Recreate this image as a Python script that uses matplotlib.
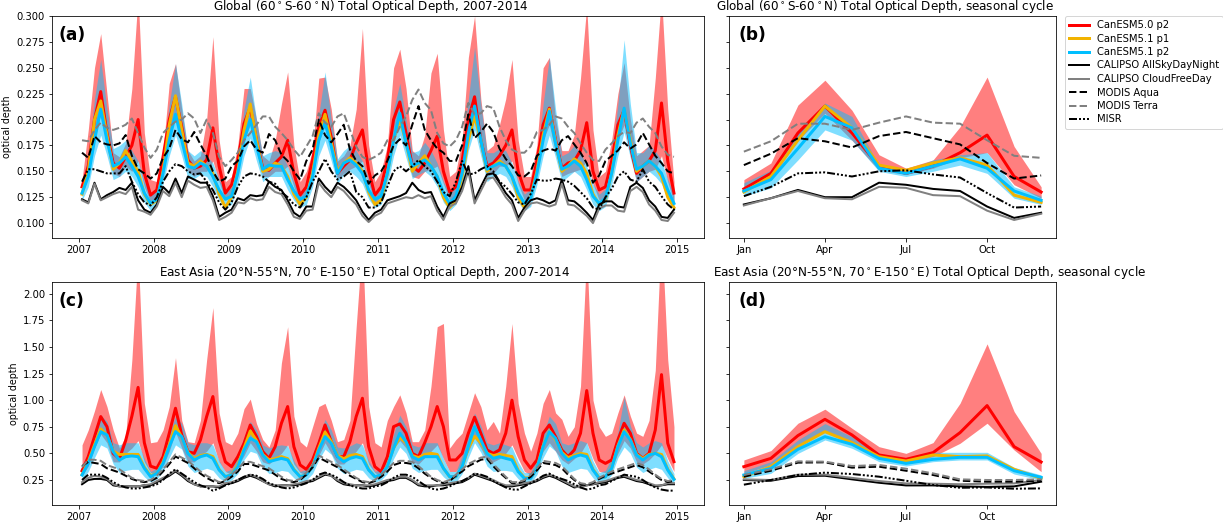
import numpy as np
import matplotlib
matplotlib.use("Agg")
import matplotlib.pyplot as plt
from matplotlib.ticker import MultipleLocator

# ------------------------------------------------------------
# data
# ------------------------------------------------------------
years = list(range(2007, 2015))
month_labels = ["Jan", "Apr", "Jul", "Oct"]

# --- Global 60S-60N, monthly 2007-2014 (one row per year) ---
glb_c50p2 = [
    [0.135, 0.155, 0.200, 0.227, 0.187, 0.158, 0.153, 0.164, 0.175, 0.200, 0.148, 0.127],
    [0.132, 0.164, 0.200, 0.222, 0.193, 0.161, 0.153, 0.155, 0.161, 0.192, 0.155, 0.129],
    [0.137, 0.161, 0.196, 0.212, 0.180, 0.153, 0.151, 0.158, 0.164, 0.180, 0.148, 0.127],
    [0.135, 0.161, 0.193, 0.209, 0.183, 0.148, 0.155, 0.161, 0.177, 0.190, 0.151, 0.127],
    [0.135, 0.161, 0.200, 0.217, 0.187, 0.155, 0.150, 0.158, 0.170, 0.184, 0.150, 0.130],
    [0.135, 0.160, 0.200, 0.222, 0.180, 0.155, 0.158, 0.165, 0.175, 0.190, 0.150, 0.132],
    [0.132, 0.160, 0.195, 0.211, 0.180, 0.153, 0.158, 0.160, 0.170, 0.197, 0.150, 0.132],
    [0.135, 0.160, 0.195, 0.209, 0.175, 0.148, 0.155, 0.160, 0.170, 0.216, 0.160, 0.129],
]
glb_c50p2_hi = [
    [0.142, 0.190, 0.250, 0.283, 0.225, 0.168, 0.164, 0.177, 0.230, 0.320, 0.187, 0.142],
    [0.140, 0.170, 0.235, 0.254, 0.210, 0.170, 0.160, 0.165, 0.200, 0.280, 0.180, 0.140],
    [0.145, 0.175, 0.230, 0.230, 0.200, 0.165, 0.160, 0.180, 0.215, 0.246, 0.175, 0.140],
    [0.150, 0.170, 0.240, 0.241, 0.210, 0.160, 0.165, 0.175, 0.210, 0.288, 0.175, 0.140],
    [0.150, 0.175, 0.250, 0.268, 0.230, 0.170, 0.165, 0.185, 0.245, 0.264, 0.190, 0.145],
    [0.150, 0.180, 0.260, 0.300, 0.220, 0.170, 0.175, 0.195, 0.220, 0.258, 0.180, 0.145],
    [0.145, 0.175, 0.250, 0.260, 0.200, 0.170, 0.170, 0.185, 0.240, 0.310, 0.190, 0.145],
    [0.150, 0.180, 0.225, 0.255, 0.200, 0.165, 0.170, 0.175, 0.240, 0.320, 0.210, 0.140],
]
glb_c50p2_lo = [
    [0.128, 0.145, 0.180, 0.205, 0.175, 0.148, 0.145, 0.155, 0.150, 0.160, 0.135, 0.120],
    [0.125, 0.150, 0.185, 0.205, 0.178, 0.150, 0.145, 0.150, 0.150, 0.160, 0.140, 0.122],
    [0.128, 0.148, 0.180, 0.195, 0.170, 0.145, 0.145, 0.150, 0.150, 0.155, 0.135, 0.120],
    [0.128, 0.148, 0.178, 0.195, 0.170, 0.142, 0.148, 0.152, 0.155, 0.160, 0.138, 0.120],
    [0.125, 0.148, 0.182, 0.200, 0.172, 0.145, 0.143, 0.150, 0.152, 0.155, 0.138, 0.122],
    [0.125, 0.148, 0.182, 0.205, 0.170, 0.145, 0.148, 0.155, 0.155, 0.160, 0.138, 0.122],
    [0.123, 0.148, 0.180, 0.195, 0.168, 0.145, 0.148, 0.150, 0.152, 0.160, 0.138, 0.122],
    [0.125, 0.148, 0.180, 0.195, 0.165, 0.140, 0.145, 0.150, 0.152, 0.165, 0.140, 0.120],
]
glb_c51p1 = [
    [0.128, 0.150, 0.200, 0.218, 0.185, 0.152, 0.158, 0.170, 0.160, 0.150, 0.128, 0.118],
    [0.122, 0.150, 0.195, 0.223, 0.190, 0.158, 0.155, 0.160, 0.155, 0.148, 0.128, 0.115],
    [0.125, 0.150, 0.190, 0.215, 0.180, 0.150, 0.152, 0.158, 0.155, 0.145, 0.128, 0.118],
    [0.125, 0.148, 0.185, 0.205, 0.178, 0.150, 0.158, 0.163, 0.158, 0.150, 0.130, 0.118],
    [0.122, 0.148, 0.180, 0.200, 0.178, 0.150, 0.158, 0.165, 0.155, 0.145, 0.125, 0.115],
    [0.122, 0.145, 0.180, 0.203, 0.180, 0.150, 0.155, 0.160, 0.155, 0.145, 0.125, 0.115],
    [0.125, 0.150, 0.185, 0.210, 0.178, 0.150, 0.155, 0.162, 0.158, 0.148, 0.128, 0.118],
    [0.122, 0.148, 0.185, 0.210, 0.180, 0.150, 0.155, 0.160, 0.155, 0.145, 0.125, 0.115],
]
glb_c51p2 = [
    [0.129, 0.145, 0.180, 0.210, 0.180, 0.155, 0.158, 0.164, 0.155, 0.145, 0.129, 0.119],
    [0.123, 0.148, 0.180, 0.205, 0.180, 0.155, 0.153, 0.158, 0.155, 0.145, 0.132, 0.123],
    [0.126, 0.148, 0.180, 0.200, 0.174, 0.152, 0.156, 0.155, 0.155, 0.142, 0.131, 0.123],
    [0.126, 0.145, 0.180, 0.197, 0.174, 0.148, 0.158, 0.161, 0.156, 0.148, 0.132, 0.123],
    [0.126, 0.148, 0.180, 0.206, 0.177, 0.155, 0.158, 0.161, 0.155, 0.145, 0.129, 0.119],
    [0.126, 0.148, 0.187, 0.213, 0.180, 0.152, 0.155, 0.158, 0.155, 0.145, 0.129, 0.119],
    [0.124, 0.148, 0.180, 0.208, 0.177, 0.152, 0.155, 0.160, 0.155, 0.142, 0.126, 0.119],
    [0.124, 0.148, 0.180, 0.211, 0.177, 0.152, 0.155, 0.160, 0.155, 0.148, 0.132, 0.119],
]
glb_c51p2_hi = [
    [0.138, 0.165, 0.220, 0.258, 0.210, 0.172, 0.175, 0.180, 0.170, 0.160, 0.140, 0.128],
    [0.133, 0.163, 0.215, 0.254, 0.215, 0.170, 0.165, 0.170, 0.165, 0.158, 0.142, 0.130],
    [0.135, 0.162, 0.210, 0.241, 0.200, 0.165, 0.168, 0.170, 0.168, 0.155, 0.140, 0.130],
    [0.135, 0.160, 0.205, 0.246, 0.200, 0.162, 0.170, 0.175, 0.170, 0.160, 0.142, 0.130],
    [0.133, 0.162, 0.210, 0.235, 0.200, 0.168, 0.170, 0.178, 0.170, 0.158, 0.140, 0.128],
    [0.135, 0.163, 0.220, 0.270, 0.215, 0.168, 0.168, 0.172, 0.170, 0.158, 0.140, 0.128],
    [0.133, 0.162, 0.215, 0.260, 0.210, 0.165, 0.168, 0.175, 0.168, 0.155, 0.138, 0.128],
    [0.133, 0.163, 0.215, 0.277, 0.215, 0.168, 0.168, 0.175, 0.170, 0.160, 0.142, 0.128],
]
glb_c51p2_lo = [
    [0.122, 0.135, 0.165, 0.185, 0.165, 0.142, 0.145, 0.150, 0.145, 0.135, 0.120, 0.112],
    [0.117, 0.138, 0.165, 0.185, 0.165, 0.143, 0.143, 0.147, 0.145, 0.135, 0.122, 0.115],
    [0.118, 0.137, 0.165, 0.182, 0.160, 0.140, 0.145, 0.145, 0.145, 0.132, 0.122, 0.115],
    [0.118, 0.135, 0.165, 0.180, 0.160, 0.138, 0.147, 0.150, 0.145, 0.138, 0.123, 0.115],
    [0.118, 0.137, 0.165, 0.185, 0.163, 0.143, 0.147, 0.150, 0.145, 0.135, 0.120, 0.112],
    [0.118, 0.137, 0.170, 0.190, 0.165, 0.140, 0.145, 0.148, 0.145, 0.135, 0.120, 0.112],
    [0.116, 0.137, 0.165, 0.185, 0.163, 0.140, 0.145, 0.150, 0.145, 0.132, 0.118, 0.112],
    [0.116, 0.137, 0.165, 0.188, 0.163, 0.140, 0.145, 0.150, 0.145, 0.138, 0.123, 0.112],
]
glb_cal_all = [
    [0.123, 0.120, 0.139, 0.123, 0.127, 0.130, 0.134, 0.132, 0.139, 0.122, 0.113, 0.110],
    [0.118, 0.135, 0.129, 0.143, 0.129, 0.145, 0.142, 0.139, 0.139, 0.126, 0.106, 0.110],
    [0.113, 0.124, 0.122, 0.127, 0.126, 0.127, 0.140, 0.135, 0.132, 0.122, 0.110, 0.106],
    [0.116, 0.116, 0.143, 0.135, 0.129, 0.139, 0.135, 0.129, 0.122, 0.111, 0.103, 0.110],
    [0.113, 0.122, 0.124, 0.126, 0.129, 0.139, 0.132, 0.129, 0.130, 0.116, 0.106, 0.119],
    [0.122, 0.135, 0.155, 0.122, 0.135, 0.147, 0.148, 0.139, 0.129, 0.122, 0.105, 0.115],
    [0.122, 0.124, 0.122, 0.119, 0.122, 0.142, 0.122, 0.121, 0.116, 0.110, 0.103, 0.118],
    [0.121, 0.121, 0.116, 0.115, 0.135, 0.139, 0.134, 0.122, 0.116, 0.106, 0.105, 0.113],
]
glb_cal_clr = [
    [0.122, 0.119, 0.138, 0.122, 0.125, 0.128, 0.130, 0.128, 0.135, 0.113, 0.111, 0.108],
    [0.116, 0.131, 0.126, 0.139, 0.125, 0.141, 0.137, 0.134, 0.135, 0.122, 0.103, 0.106],
    [0.110, 0.120, 0.119, 0.124, 0.122, 0.123, 0.135, 0.130, 0.128, 0.118, 0.106, 0.104],
    [0.112, 0.113, 0.139, 0.131, 0.125, 0.135, 0.131, 0.124, 0.118, 0.107, 0.101, 0.107],
    [0.110, 0.119, 0.121, 0.123, 0.125, 0.124, 0.127, 0.124, 0.126, 0.112, 0.103, 0.116],
    [0.119, 0.131, 0.150, 0.119, 0.131, 0.143, 0.144, 0.135, 0.125, 0.118, 0.102, 0.112],
    [0.119, 0.120, 0.118, 0.116, 0.118, 0.138, 0.118, 0.117, 0.112, 0.107, 0.100, 0.114],
    [0.117, 0.117, 0.112, 0.111, 0.131, 0.135, 0.130, 0.118, 0.112, 0.103, 0.102, 0.110],
]
glb_aqua = [
    [0.168, 0.163, 0.184, 0.178, 0.176, 0.175, 0.177, 0.185, 0.165, 0.152, 0.148, 0.143],
    [0.148, 0.163, 0.172, 0.190, 0.181, 0.178, 0.188, 0.176, 0.165, 0.150, 0.140, 0.143],
    [0.155, 0.160, 0.174, 0.180, 0.171, 0.168, 0.186, 0.180, 0.166, 0.160, 0.150, 0.142],
    [0.160, 0.171, 0.200, 0.185, 0.178, 0.186, 0.195, 0.171, 0.160, 0.155, 0.138, 0.146],
    [0.150, 0.160, 0.175, 0.181, 0.175, 0.195, 0.213, 0.190, 0.180, 0.172, 0.168, 0.160],
    [0.160, 0.175, 0.205, 0.182, 0.188, 0.196, 0.188, 0.172, 0.162, 0.155, 0.146, 0.145],
    [0.150, 0.165, 0.170, 0.172, 0.170, 0.180, 0.184, 0.176, 0.168, 0.158, 0.139, 0.146],
    [0.160, 0.165, 0.170, 0.178, 0.172, 0.176, 0.187, 0.176, 0.165, 0.158, 0.150, 0.148],
]
glb_terra = [
    [0.180, 0.179, 0.190, 0.197, 0.192, 0.190, 0.192, 0.195, 0.201, 0.187, 0.173, 0.163],
    [0.171, 0.187, 0.193, 0.198, 0.200, 0.206, 0.201, 0.187, 0.200, 0.187, 0.164, 0.155],
    [0.161, 0.168, 0.180, 0.187, 0.195, 0.203, 0.203, 0.193, 0.187, 0.180, 0.171, 0.164],
    [0.174, 0.184, 0.206, 0.197, 0.193, 0.203, 0.206, 0.190, 0.174, 0.164, 0.161, 0.164],
    [0.168, 0.180, 0.180, 0.193, 0.203, 0.219, 0.229, 0.216, 0.209, 0.187, 0.177, 0.174],
    [0.180, 0.193, 0.216, 0.205, 0.206, 0.213, 0.211, 0.193, 0.180, 0.171, 0.168, 0.168],
    [0.174, 0.188, 0.190, 0.195, 0.203, 0.201, 0.193, 0.187, 0.177, 0.168, 0.161, 0.160],
    [0.171, 0.177, 0.184, 0.188, 0.187, 0.197, 0.201, 0.193, 0.187, 0.174, 0.166, 0.164],
]
glb_misr = [
    [0.140, 0.152, 0.152, 0.150, 0.148, 0.148, 0.148, 0.155, 0.140, 0.128, 0.120, 0.117],
    [0.125, 0.140, 0.150, 0.157, 0.155, 0.150, 0.147, 0.148, 0.140, 0.132, 0.120, 0.113],
    [0.120, 0.135, 0.145, 0.148, 0.147, 0.145, 0.140, 0.138, 0.130, 0.125, 0.118, 0.115],
    [0.125, 0.140, 0.150, 0.162, 0.150, 0.142, 0.145, 0.150, 0.130, 0.125, 0.115, 0.115],
    [0.120, 0.135, 0.150, 0.155, 0.150, 0.155, 0.161, 0.155, 0.150, 0.140, 0.130, 0.126],
    [0.140, 0.160, 0.147, 0.148, 0.152, 0.155, 0.150, 0.140, 0.135, 0.128, 0.120, 0.118],
    [0.128, 0.142, 0.141, 0.141, 0.143, 0.142, 0.140, 0.136, 0.130, 0.124, 0.115, 0.113],
    [0.125, 0.133, 0.145, 0.150, 0.142, 0.140, 0.152, 0.140, 0.135, 0.126, 0.118, 0.113],
]

# --- Global, seasonal cycle (Jan..Dec) ---
gsc_c50p2 = [0.133, 0.148, 0.187, 0.213, 0.187, 0.155, 0.148, 0.155, 0.168, 0.185, 0.145, 0.130]
gsc_c50p2_hi = [0.142, 0.158, 0.214, 0.238, 0.209, 0.166, 0.153, 0.161, 0.193, 0.241, 0.174, 0.135]
gsc_c50p2_lo = [0.131, 0.142, 0.180, 0.206, 0.180, 0.151, 0.147, 0.153, 0.163, 0.168, 0.137, 0.124]
gsc_c51p1 = [0.130, 0.145, 0.180, 0.213, 0.192, 0.156, 0.151, 0.158, 0.163, 0.156, 0.127, 0.120]
gsc_c51p2 = [0.131, 0.142, 0.172, 0.203, 0.192, 0.153, 0.148, 0.155, 0.162, 0.153, 0.131, 0.122]
gsc_c51p2_hi = [0.139, 0.151, 0.187, 0.216, 0.203, 0.156, 0.151, 0.161, 0.166, 0.168, 0.135, 0.126]
gsc_c51p2_lo = [0.126, 0.134, 0.161, 0.190, 0.180, 0.150, 0.145, 0.150, 0.156, 0.148, 0.124, 0.118]
gsc_cal_all = [0.118, 0.124, 0.132, 0.125, 0.125, 0.139, 0.137, 0.133, 0.131, 0.116, 0.105, 0.110]
gsc_cal_clr = [0.117, 0.124, 0.131, 0.124, 0.123, 0.135, 0.134, 0.127, 0.126, 0.112, 0.103, 0.109]
gsc_aqua = [0.156, 0.167, 0.182, 0.179, 0.173, 0.184, 0.188, 0.182, 0.176, 0.158, 0.143, 0.146]
gsc_terra = [0.169, 0.179, 0.196, 0.196, 0.190, 0.197, 0.203, 0.197, 0.196, 0.180, 0.165, 0.163]
gsc_misr = [0.126, 0.135, 0.148, 0.149, 0.145, 0.150, 0.151, 0.147, 0.144, 0.129, 0.115, 0.116]

# --- East Asia 20N-55N 70E-150E, monthly 2007-2014 ---
eas_c50p2 = [
    [0.337, 0.469, 0.657, 0.846, 0.751, 0.500, 0.450, 0.620, 0.850, 1.120, 0.600, 0.380],
    [0.360, 0.469, 0.689, 0.924, 0.673, 0.516, 0.500, 0.626, 0.846, 1.034, 0.626, 0.420],
    [0.375, 0.469, 0.595, 0.767, 0.657, 0.516, 0.453, 0.563, 0.783, 0.940, 0.563, 0.391],
    [0.350, 0.438, 0.595, 0.767, 0.610, 0.469, 0.469, 0.610, 0.846, 1.018, 0.563, 0.375],
    [0.328, 0.469, 0.751, 0.777, 0.689, 0.500, 0.469, 0.600, 0.750, 0.940, 0.751, 0.438],
    [0.438, 0.500, 0.689, 0.840, 0.689, 0.532, 0.500, 0.532, 0.689, 1.000, 0.657, 0.438],
    [0.360, 0.438, 0.689, 0.767, 0.657, 0.532, 0.469, 0.532, 0.689, 1.090, 0.689, 0.438],
    [0.406, 0.438, 0.626, 0.783, 0.689, 0.500, 0.453, 0.500, 0.720, 1.240, 0.595, 0.422],
]
eas_c50p2_hi = [
    [0.58, 0.72, 0.90, 1.10, 0.94, 0.72, 0.55, 0.66, 1.38, 2.40, 0.97, 0.60],
    [0.61, 0.72, 0.94, 1.40, 0.81, 0.61, 0.60, 0.81, 1.38, 1.87, 0.88, 0.61],
    [0.58, 0.69, 0.92, 1.01, 0.78, 0.63, 0.56, 0.72, 1.35, 1.69, 0.85, 0.61],
    [0.56, 0.75, 0.94, 0.97, 0.81, 0.61, 0.63, 0.81, 1.69, 2.50, 0.94, 0.60],
    [0.56, 0.81, 0.94, 1.05, 0.88, 0.61, 0.61, 0.72, 1.13, 1.69, 1.72, 0.55],
    [0.63, 0.69, 0.88, 1.07, 0.94, 0.72, 0.80, 0.69, 1.13, 1.72, 0.97, 0.69],
    [0.52, 0.69, 0.97, 1.10, 0.88, 0.82, 0.66, 0.75, 1.13, 2.40, 1.00, 0.75],
    [0.66, 0.69, 0.88, 1.05, 0.85, 0.69, 0.66, 0.81, 1.28, 2.60, 1.38, 0.75],
]
eas_c50p2_lo = [
    [0.30, 0.38, 0.55, 0.68, 0.60, 0.42, 0.42, 0.50, 0.55, 0.62, 0.42, 0.32],
    [0.30, 0.38, 0.52, 0.70, 0.55, 0.42, 0.42, 0.48, 0.52, 0.60, 0.42, 0.33],
    [0.30, 0.38, 0.48, 0.60, 0.52, 0.42, 0.40, 0.45, 0.50, 0.58, 0.40, 0.32],
    [0.30, 0.36, 0.48, 0.60, 0.50, 0.40, 0.40, 0.46, 0.52, 0.60, 0.40, 0.32],
    [0.28, 0.38, 0.55, 0.62, 0.55, 0.42, 0.40, 0.46, 0.52, 0.58, 0.45, 0.33],
    [0.33, 0.40, 0.52, 0.65, 0.55, 0.44, 0.42, 0.45, 0.50, 0.58, 0.45, 0.33],
    [0.30, 0.36, 0.52, 0.60, 0.52, 0.44, 0.40, 0.45, 0.50, 0.60, 0.45, 0.33],
    [0.32, 0.36, 0.50, 0.62, 0.55, 0.42, 0.40, 0.44, 0.50, 0.58, 0.45, 0.33],
]
eas_c51p1 = [
    [0.30, 0.42, 0.58, 0.73, 0.67, 0.52, 0.49, 0.49, 0.49, 0.49, 0.37, 0.29],
    [0.31, 0.42, 0.58, 0.76, 0.65, 0.51, 0.45, 0.48, 0.49, 0.47, 0.35, 0.28],
    [0.30, 0.39, 0.55, 0.71, 0.62, 0.49, 0.44, 0.45, 0.47, 0.45, 0.35, 0.28],
    [0.30, 0.38, 0.55, 0.70, 0.61, 0.48, 0.45, 0.48, 0.49, 0.47, 0.35, 0.28],
    [0.29, 0.38, 0.55, 0.65, 0.60, 0.48, 0.46, 0.49, 0.50, 0.49, 0.36, 0.28],
    [0.28, 0.37, 0.55, 0.66, 0.60, 0.50, 0.48, 0.49, 0.48, 0.47, 0.34, 0.27],
    [0.27, 0.36, 0.57, 0.71, 0.63, 0.51, 0.46, 0.48, 0.50, 0.49, 0.35, 0.27],
    [0.28, 0.36, 0.57, 0.72, 0.63, 0.49, 0.45, 0.49, 0.50, 0.49, 0.35, 0.26],
]
eas_c51p2 = [
    [0.297, 0.406, 0.563, 0.704, 0.673, 0.516, 0.438, 0.469, 0.476, 0.469, 0.360, 0.281],
    [0.312, 0.406, 0.563, 0.704, 0.657, 0.500, 0.438, 0.469, 0.485, 0.453, 0.344, 0.281],
    [0.297, 0.375, 0.532, 0.642, 0.610, 0.485, 0.422, 0.438, 0.453, 0.438, 0.344, 0.281],
    [0.297, 0.375, 0.532, 0.657, 0.595, 0.469, 0.422, 0.453, 0.469, 0.453, 0.344, 0.281],
    [0.297, 0.375, 0.548, 0.689, 0.610, 0.469, 0.438, 0.469, 0.469, 0.469, 0.360, 0.281],
    [0.281, 0.375, 0.563, 0.751, 0.626, 0.500, 0.453, 0.469, 0.453, 0.438, 0.328, 0.265],
    [0.265, 0.359, 0.563, 0.704, 0.642, 0.500, 0.438, 0.469, 0.485, 0.469, 0.344, 0.265],
    [0.281, 0.359, 0.563, 0.704, 0.626, 0.485, 0.438, 0.485, 0.500, 0.469, 0.344, 0.256],
]
eas_c51p2_hi = [
    [0.36, 0.50, 0.68, 0.86, 0.80, 0.60, 0.58, 0.60, 0.60, 0.60, 0.45, 0.33],
    [0.36, 0.50, 0.68, 0.85, 0.78, 0.60, 0.58, 0.60, 0.60, 0.58, 0.43, 0.33],
    [0.35, 0.48, 0.65, 0.80, 0.72, 0.58, 0.55, 0.57, 0.58, 0.57, 0.43, 0.33],
    [0.35, 0.48, 0.65, 0.82, 0.72, 0.56, 0.55, 0.57, 0.60, 0.58, 0.43, 0.33],
    [0.35, 0.48, 0.68, 0.86, 0.75, 0.58, 0.56, 0.60, 0.60, 0.60, 0.45, 0.33],
    [0.33, 0.48, 0.70, 0.88, 0.76, 0.60, 0.58, 0.60, 0.58, 0.56, 0.42, 0.32],
    [0.32, 0.46, 0.68, 0.85, 0.78, 0.60, 0.58, 0.60, 0.62, 0.60, 0.43, 0.32],
    [0.34, 0.46, 0.70, 1.03, 0.76, 0.60, 0.56, 0.60, 0.62, 0.60, 0.43, 0.31],
]
eas_c51p2_lo = [
    [0.25, 0.33, 0.46, 0.58, 0.55, 0.40, 0.32, 0.34, 0.35, 0.35, 0.28, 0.23],
    [0.26, 0.33, 0.46, 0.58, 0.54, 0.38, 0.32, 0.34, 0.36, 0.34, 0.27, 0.23],
    [0.25, 0.31, 0.44, 0.52, 0.50, 0.37, 0.31, 0.32, 0.34, 0.33, 0.27, 0.23],
    [0.25, 0.31, 0.44, 0.54, 0.49, 0.36, 0.31, 0.33, 0.35, 0.34, 0.27, 0.23],
    [0.25, 0.31, 0.45, 0.56, 0.50, 0.36, 0.32, 0.34, 0.35, 0.35, 0.28, 0.23],
    [0.23, 0.31, 0.46, 0.60, 0.51, 0.38, 0.33, 0.34, 0.34, 0.33, 0.26, 0.22],
    [0.22, 0.30, 0.46, 0.57, 0.52, 0.38, 0.32, 0.34, 0.36, 0.35, 0.27, 0.22],
    [0.23, 0.30, 0.46, 0.56, 0.50, 0.37, 0.32, 0.35, 0.37, 0.35, 0.27, 0.21],
]
eas_cal_all = [
    [0.21, 0.25, 0.26, 0.26, 0.25, 0.20, 0.19, 0.19, 0.19, 0.19, 0.20, 0.20],
    [0.23, 0.26, 0.29, 0.33, 0.29, 0.24, 0.21, 0.19, 0.19, 0.19, 0.18, 0.21],
    [0.22, 0.24, 0.27, 0.29, 0.27, 0.24, 0.21, 0.19, 0.20, 0.20, 0.20, 0.21],
    [0.23, 0.24, 0.27, 0.30, 0.29, 0.24, 0.21, 0.20, 0.20, 0.20, 0.19, 0.20],
    [0.22, 0.24, 0.25, 0.27, 0.27, 0.24, 0.20, 0.19, 0.19, 0.20, 0.20, 0.21],
    [0.22, 0.23, 0.26, 0.30, 0.28, 0.26, 0.24, 0.21, 0.19, 0.19, 0.20, 0.21],
    [0.22, 0.24, 0.27, 0.29, 0.27, 0.24, 0.21, 0.18, 0.19, 0.20, 0.21, 0.22],
    [0.23, 0.25, 0.27, 0.28, 0.26, 0.24, 0.23, 0.21, 0.19, 0.20, 0.21, 0.21],
]
eas_cal_clr = [
    [0.23, 0.27, 0.29, 0.28, 0.26, 0.21, 0.19, 0.19, 0.19, 0.19, 0.20, 0.21],
    [0.24, 0.27, 0.30, 0.34, 0.30, 0.25, 0.21, 0.19, 0.19, 0.19, 0.19, 0.22],
    [0.23, 0.25, 0.28, 0.30, 0.28, 0.24, 0.21, 0.20, 0.20, 0.20, 0.21, 0.22],
    [0.24, 0.25, 0.28, 0.31, 0.29, 0.25, 0.22, 0.21, 0.20, 0.20, 0.20, 0.21],
    [0.23, 0.25, 0.26, 0.28, 0.28, 0.25, 0.21, 0.20, 0.20, 0.20, 0.21, 0.22],
    [0.23, 0.24, 0.27, 0.31, 0.29, 0.27, 0.25, 0.22, 0.20, 0.20, 0.21, 0.22],
    [0.23, 0.25, 0.28, 0.30, 0.28, 0.25, 0.22, 0.19, 0.18, 0.20, 0.21, 0.23],
    [0.24, 0.26, 0.28, 0.29, 0.27, 0.25, 0.24, 0.22, 0.20, 0.20, 0.22, 0.22],
]
eas_aqua = [
    [0.38, 0.42, 0.41, 0.40, 0.36, 0.34, 0.32, 0.29, 0.26, 0.24, 0.23, 0.24],
    [0.27, 0.33, 0.40, 0.47, 0.44, 0.41, 0.36, 0.31, 0.27, 0.24, 0.22, 0.24],
    [0.28, 0.33, 0.40, 0.40, 0.38, 0.36, 0.34, 0.30, 0.26, 0.24, 0.23, 0.25],
    [0.30, 0.37, 0.46, 0.43, 0.40, 0.37, 0.33, 0.29, 0.26, 0.23, 0.22, 0.24],
    [0.28, 0.33, 0.39, 0.41, 0.41, 0.40, 0.36, 0.31, 0.27, 0.24, 0.22, 0.24],
    [0.29, 0.33, 0.38, 0.41, 0.44, 0.45, 0.38, 0.32, 0.27, 0.22, 0.22, 0.24],
    [0.28, 0.34, 0.41, 0.40, 0.39, 0.36, 0.30, 0.25, 0.21, 0.20, 0.22, 0.26],
    [0.29, 0.31, 0.33, 0.35, 0.37, 0.39, 0.37, 0.33, 0.29, 0.25, 0.23, 0.24],
]
eas_terra = [
    [0.37, 0.44, 0.44, 0.43, 0.39, 0.37, 0.35, 0.31, 0.27, 0.25, 0.24, 0.25],
    [0.29, 0.35, 0.42, 0.49, 0.46, 0.43, 0.38, 0.33, 0.29, 0.26, 0.23, 0.25],
    [0.30, 0.35, 0.42, 0.42, 0.40, 0.38, 0.36, 0.32, 0.28, 0.25, 0.24, 0.26],
    [0.32, 0.39, 0.48, 0.45, 0.42, 0.39, 0.35, 0.31, 0.27, 0.24, 0.23, 0.25],
    [0.30, 0.35, 0.41, 0.43, 0.43, 0.42, 0.38, 0.33, 0.28, 0.25, 0.23, 0.25],
    [0.30, 0.35, 0.40, 0.43, 0.46, 0.47, 0.40, 0.34, 0.28, 0.23, 0.23, 0.25],
    [0.30, 0.36, 0.43, 0.42, 0.41, 0.38, 0.32, 0.26, 0.22, 0.21, 0.23, 0.27],
    [0.30, 0.33, 0.35, 0.37, 0.39, 0.41, 0.39, 0.35, 0.30, 0.26, 0.24, 0.25],
]
eas_misr = [
    [0.25, 0.30, 0.30, 0.30, 0.27, 0.23, 0.20, 0.18, 0.17, 0.17, 0.18, 0.19],
    [0.21, 0.25, 0.31, 0.35, 0.31, 0.27, 0.23, 0.20, 0.18, 0.15, 0.17, 0.20],
    [0.22, 0.25, 0.28, 0.30, 0.29, 0.26, 0.22, 0.20, 0.18, 0.17, 0.18, 0.20],
    [0.22, 0.25, 0.30, 0.32, 0.30, 0.27, 0.23, 0.20, 0.18, 0.17, 0.17, 0.19],
    [0.20, 0.23, 0.27, 0.30, 0.30, 0.28, 0.24, 0.20, 0.17, 0.16, 0.17, 0.19],
    [0.22, 0.24, 0.27, 0.31, 0.30, 0.28, 0.24, 0.21, 0.18, 0.16, 0.16, 0.19],
    [0.22, 0.25, 0.29, 0.31, 0.28, 0.26, 0.24, 0.21, 0.18, 0.16, 0.17, 0.20],
    [0.21, 0.24, 0.27, 0.30, 0.29, 0.28, 0.25, 0.21, 0.18, 0.16, 0.15, 0.15],
]

# --- East Asia, seasonal cycle ---
esc_c50p2 = [0.375, 0.453, 0.667, 0.820, 0.673, 0.485, 0.444, 0.507, 0.695, 0.949, 0.563, 0.419]
esc_c50p2_hi = [0.438, 0.526, 0.783, 0.915, 0.736, 0.563, 0.500, 0.601, 0.971, 1.529, 0.893, 0.500]
esc_c50p2_lo = [0.312, 0.391, 0.580, 0.700, 0.600, 0.453, 0.406, 0.469, 0.595, 0.783, 0.532, 0.328]
esc_c51p1 = [0.281, 0.375, 0.563, 0.704, 0.601, 0.469, 0.428, 0.485, 0.469, 0.476, 0.350, 0.265]
esc_c51p2 = [0.297, 0.359, 0.538, 0.657, 0.585, 0.453, 0.406, 0.444, 0.463, 0.463, 0.337, 0.275]
esc_c51p2_hi = [0.337, 0.422, 0.626, 0.780, 0.657, 0.485, 0.438, 0.510, 0.510, 0.510, 0.369, 0.297]
esc_c51p2_lo = [0.265, 0.312, 0.500, 0.626, 0.548, 0.422, 0.381, 0.422, 0.438, 0.438, 0.306, 0.250]
esc_cal_all = [0.250, 0.243, 0.287, 0.290, 0.256, 0.224, 0.199, 0.199, 0.190, 0.185, 0.190, 0.234]
esc_cal_clr = [0.256, 0.250, 0.300, 0.300, 0.270, 0.240, 0.218, 0.215, 0.210, 0.215, 0.218, 0.250]
esc_aqua = [0.281, 0.337, 0.413, 0.416, 0.366, 0.375, 0.337, 0.297, 0.243, 0.234, 0.234, 0.243]
esc_terra = [0.297, 0.350, 0.425, 0.422, 0.381, 0.391, 0.356, 0.312, 0.256, 0.250, 0.250, 0.256]
esc_misr = [0.206, 0.250, 0.297, 0.319, 0.306, 0.281, 0.243, 0.203, 0.177, 0.180, 0.168, 0.171]

# ------------------------------------------------------------
# styles
# ------------------------------------------------------------
RED = "#ff0000"
ORANGE = "#f2b300"
CYAN = "#00bfff"
MISR_LS = (0, (4, 1, 1, 1, 1, 1, 1, 1))

t_month = np.array([y + (m + 0.5) / 12.0 for y in years for m in range(12)])
t_season = np.arange(12)


def flat(rows):
    return np.ravel(rows)


def draw_panel(ax, x, mod, obs):
    ax.fill_between(x, mod["r_lo"], mod["r_hi"], color=RED, alpha=0.5, lw=0)
    ax.fill_between(x, mod["c_lo"], mod["c_hi"], color=CYAN, alpha=0.5, lw=0)
    ax.plot(x, mod["r"], color=RED, lw=3, label="CanESM5.0 p2")
    ax.plot(x, mod["o"], color=ORANGE, lw=3, label="CanESM5.1 p1")
    ax.plot(x, mod["c"], color=CYAN, lw=3, label="CanESM5.1 p2")
    ax.plot(x, obs["all"], color="black", lw=2, label="CALIPSO AllSkyDayNight")
    ax.plot(x, obs["clr"], color="grey", lw=2, label="CALIPSO CloudFreeDay")
    ax.plot(x, obs["aqua"], color="black", lw=2, ls="--", label="MODIS Aqua")
    ax.plot(x, obs["terra"], color="grey", lw=2, ls="--", label="MODIS Terra")
    ax.plot(x, obs["misr"], color="black", lw=2, ls=MISR_LS, label="MISR")


fig = plt.figure(figsize=(1223 / 72, 522 / 72), dpi=72)

W, H = 1223.0, 522.0
ax_a = fig.add_axes([52 / W, 1 - 238 / H, 652 / W, 222 / H])
ax_b = fig.add_axes([729 / W, 1 - 238 / H, 327 / W, 222 / H], sharey=ax_a)
ax_c = fig.add_axes([52 / W, 1 - 505 / H, 652 / W, 223 / H])
ax_d = fig.add_axes([729 / W, 1 - 505 / H, 327 / W, 223 / H], sharey=ax_c)

draw_panel(ax_a, t_month,
           dict(r=flat(glb_c50p2), r_hi=flat(glb_c50p2_hi), r_lo=flat(glb_c50p2_lo),
                o=flat(glb_c51p1), c=flat(glb_c51p2), c_hi=flat(glb_c51p2_hi), c_lo=flat(glb_c51p2_lo)),
           dict(all=flat(glb_cal_all), clr=flat(glb_cal_clr), aqua=flat(glb_aqua),
                terra=flat(glb_terra), misr=flat(glb_misr)))
draw_panel(ax_b, t_season,
           dict(r=gsc_c50p2, r_hi=gsc_c50p2_hi, r_lo=gsc_c50p2_lo,
                o=gsc_c51p1, c=gsc_c51p2, c_hi=gsc_c51p2_hi, c_lo=gsc_c51p2_lo),
           dict(all=gsc_cal_all, clr=gsc_cal_clr, aqua=gsc_aqua, terra=gsc_terra, misr=gsc_misr))
draw_panel(ax_c, t_month,
           dict(r=flat(eas_c50p2), r_hi=flat(eas_c50p2_hi), r_lo=flat(eas_c50p2_lo),
                o=flat(eas_c51p1), c=flat(eas_c51p2), c_hi=flat(eas_c51p2_hi), c_lo=flat(eas_c51p2_lo)),
           dict(all=flat(eas_cal_all), clr=flat(eas_cal_clr), aqua=flat(eas_aqua),
                terra=flat(eas_terra), misr=flat(eas_misr)))
draw_panel(ax_d, t_season,
           dict(r=esc_c50p2, r_hi=esc_c50p2_hi, r_lo=esc_c50p2_lo,
                o=esc_c51p1, c=esc_c51p2, c_hi=esc_c51p2_hi, c_lo=esc_c51p2_lo),
           dict(all=esc_cal_all, clr=esc_cal_clr, aqua=esc_aqua, terra=esc_terra, misr=esc_misr))

# axes cosmetics
for ax in (ax_a, ax_c):
    ax.set_xlim(2006.64, 2015.36)
    ax.set_xticks(range(2007, 2016))
    ax.set_ylabel("optical depth", fontsize=9.5)
for ax in (ax_b, ax_d):
    ax.set_xlim(-0.55, 11.55)
    ax.set_xticks([0, 3, 6, 9])
    ax.set_xticklabels(month_labels)
    ax.tick_params(labelleft=False)

ax_a.set_ylim(0.0856, 0.3)
ax_a.yaxis.set_major_locator(MultipleLocator(0.025))
ax_c.set_ylim(0.015, 2.11)
ax_c.yaxis.set_major_locator(MultipleLocator(0.25))

ax_a.set_title(r"Global (60$^\circ$S-60$^\circ$N) Total Optical Depth, 2007-2014",
               fontsize=12, x=0.4885)
ax_b.set_title(r"Global (60$^\circ$S-60$^\circ$N) Total Optical Depth, seasonal cycle",
               fontsize=12, x=0.477)
ax_c.set_title(r"East Asia (20°N-55°N, 70$^\circ$E-150$^\circ$E) Total Optical Depth, 2007-2014",
               fontsize=12, x=0.479)
ax_d.set_title(r"East Asia (20°N-55°N, 70$^\circ$E-150$^\circ$E) Total Optical Depth, seasonal cycle",
               fontsize=12, x=0.613)

for ax, lab, xo in ((ax_a, "(a)", 0.01), (ax_b, "(b)", 0.03), (ax_c, "(c)", 0.01), (ax_d, "(d)", 0.03)):
    ax.text(xo, 0.955, lab, transform=ax.transAxes, fontsize=17, fontweight="bold",
            va="top", ha="left")

ax_b.legend(loc="upper left", bbox_to_anchor=(1.028, 1.0), borderaxespad=0,
            fontsize=10, labelspacing=0.35)

fig.savefig("out.png", dpi=72)
